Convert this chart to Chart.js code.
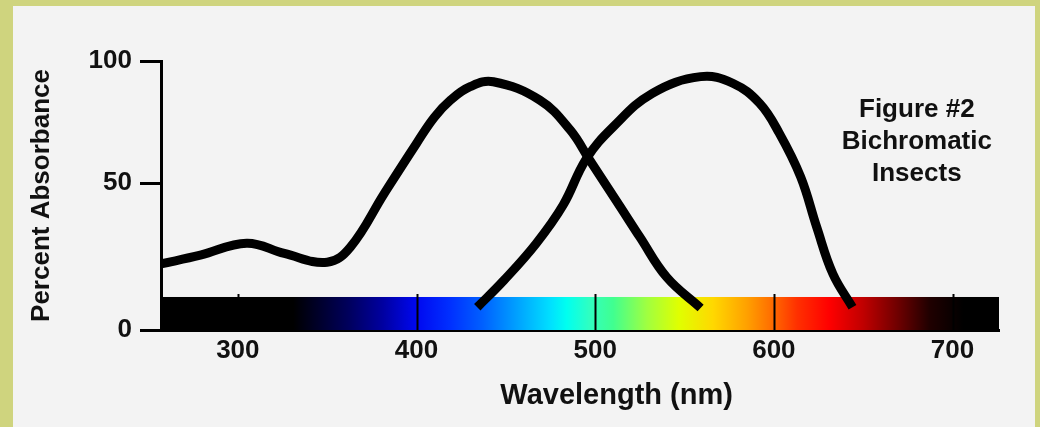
<!DOCTYPE html>
<html>
<head>
<meta charset="utf-8">
<script src="https://cdn.jsdelivr.net/npm/chart.js@4/dist/chart.umd.min.js"></script>
<style>
  html, body { margin: 0; padding: 0; }
  body { width: 1040px; height: 427px; background: #cfd47e; position: relative; overflow: hidden; }
  #frame { position: absolute; left: 13px; top: 6px; width: 1022px; height: 421px; background: #f3f3f3; }
</style>
</head>
<body>
<div id="frame"><canvas id="chart" width="1022" height="421"></canvas></div>
<script>
// wavelength axis (nm) and tick labels
const xMin = 257;
const xMax = 726;
const xTicks = [300, 400, 500, 600, 700];

// percent absorbance axis; the figure prints its "0" under the colour strip
const yMin = -10;
const yMax = 100;
const yTicks = [-10, 50, 100];
const yTickLabels = ['0', '50', '100'];

// receptor 1 (UV / blue)
const blueNm  = [257, 279, 305, 326, 350, 363, 382, 400, 410, 419, 430, 443, 469, 486, 497, 514, 525, 540, 559];
const blueAbs = [17, 20.6, 25.5, 21.3, 17.7, 23.9, 45.9, 66.3, 77, 84, 89.5, 91.5, 84, 71.8, 59.4, 40.4, 28, 11.6, -1];

// receptor 2 (green)
const greenNm  = [434, 449, 467, 482, 495, 510, 532, 559, 577, 592, 603, 615, 624, 633, 644];
const greenAbs = [-0.7, 10.4, 25.4, 41, 60, 73, 86.8, 93.6, 90.9, 82.7, 70.5, 52.6, 32, 13, -0.7];

// colour strip along the axis
const spectrumNm = [257, 331, 363, 381, 400, 419, 437, 456, 475, 484, 497, 510, 529, 547, 566, 585, 598, 613, 631, 650, 669, 687, 706, 726];
const spectrumColors = ['#000000', '#000000', '#000060', '#0000a0', '#0008f0', '#0030ff', '#0060ff', '#00a0ff', '#00e0ff', '#00fff0',
  '#30ffc0', '#40ff90', '#a0ff40', '#e0ff00', '#ffd800', '#ffa000', '#ff7000', '#ff3000', '#ff0000', '#c00000', '#700000', '#200000', '#000000', '#000000'];
const stripTop = 3.5;

const figureLines = ['Figure #2', 'Bichromatic', 'Insects'];

const FAMILY = '"Liberation Sans", Arial, sans-serif';

function toPoints(xs, ys){
  return xs.map((x, i) => ({ x: x, y: ys[i] }));
}

const spectrumPlugin = {
  id: 'spectrum',
  beforeDatasetsDraw(chart){
    const ctx = chart.ctx;
    const xs = chart.scales.x;
    const ys = chart.scales.y;
    const left = xs.getPixelForValue(xMin);
    const right = xs.getPixelForValue(xMax);
    const top = ys.getPixelForValue(stripTop);
    const bottom = ys.getPixelForValue(yMin);
    const grad = ctx.createLinearGradient(left, 0, right, 0);
    spectrumNm.forEach((nm, i) => {
      grad.addColorStop((nm - xMin) / (xMax - xMin), spectrumColors[i]);
    });
    ctx.save();
    ctx.fillStyle = grad;
    ctx.fillRect(left, top, right - left, bottom - top);
    // tick marks sit inside the strip
    ctx.strokeStyle = '#000';
    ctx.lineWidth = 2;
    xTicks.forEach(v => {
      const px = Math.round(xs.getPixelForValue(v)) + 0.5;
      ctx.beginPath();
      ctx.moveTo(px, top - 3);
      ctx.lineTo(px, bottom);
      ctx.stroke();
    });
    ctx.restore();
  },
  afterDraw(chart){
    const ctx = chart.ctx;
    const xs = chart.scales.x;
    const ys = chart.scales.y;
    ctx.save();
    ctx.fillStyle = '#111';
    ctx.textAlign = 'center';
    ctx.textBaseline = 'middle';
    ctx.font = 'bold 26px ' + FAMILY;
    figureLines.forEach((t, i) => {
      ctx.fillText(t, xs.getPixelForValue(680), ys.getPixelForValue(80 - i * 13.1));
    });
    ctx.font = 'bold 29px ' + FAMILY;
    ctx.fillText('Wavelength (nm)', xs.getPixelForValue(512), chart.chartArea.bottom + 66);
    ctx.restore();
  }
};

const chart = new Chart(document.getElementById('chart'), {
  type: 'line',
  data: {
    datasets: [
      { data: toPoints(blueNm, blueAbs), borderColor: '#000', borderWidth: 9, pointRadius: 0, tension: 0.4, fill: false },
      { data: toPoints(greenNm, greenAbs), borderColor: '#000', borderWidth: 9, pointRadius: 0, tension: 0.4, fill: false }
    ]
  },
  options: {
    responsive: false,
    animation: false,
    events: [],
    layout: { padding: { top: 55, right: 36, left: 0, bottom: 0 } },
    plugins: { legend: { display: false }, tooltip: { enabled: false } },
    scales: {
      x: {
        type: 'linear',
        min: xMin,
        max: xMax,
        z: 1,
        afterFit: s => { s.height = 97; },
        afterBuildTicks: s => { s.ticks = xTicks.map(v => ({ value: v })); },
        grid: { display: false },
        border: { display: true, color: '#000', width: 3 },
        ticks: { color: '#111', font: { family: FAMILY, size: 26, weight: 'bold' }, padding: -3, maxRotation: 0 }
      },
      y: {
        min: yMin,
        max: yMax,
        afterFit: s => { s.width = 148; },
        afterBuildTicks: s => { s.ticks = yTicks.map(v => ({ value: v })); },
        grid: { drawOnChartArea: false, color: '#000', lineWidth: 3, tickLength: 21 },
        border: { display: true, color: '#000', width: 3 },
        ticks: {
          color: '#111',
          font: { family: FAMILY, size: 26, weight: 'bold' },
          padding: 8,
          callback: v => yTickLabels[yTicks.indexOf(v)]
        },
        title: {
          display: true,
          text: 'Percent Absorbance',
          color: '#111',
          font: { family: FAMILY, size: 26, weight: 'bold' },
          padding: { top: 13, bottom: 0 }
        }
      }
    }
  },
  plugins: [spectrumPlugin]
});
</script>
</body>
</html>
